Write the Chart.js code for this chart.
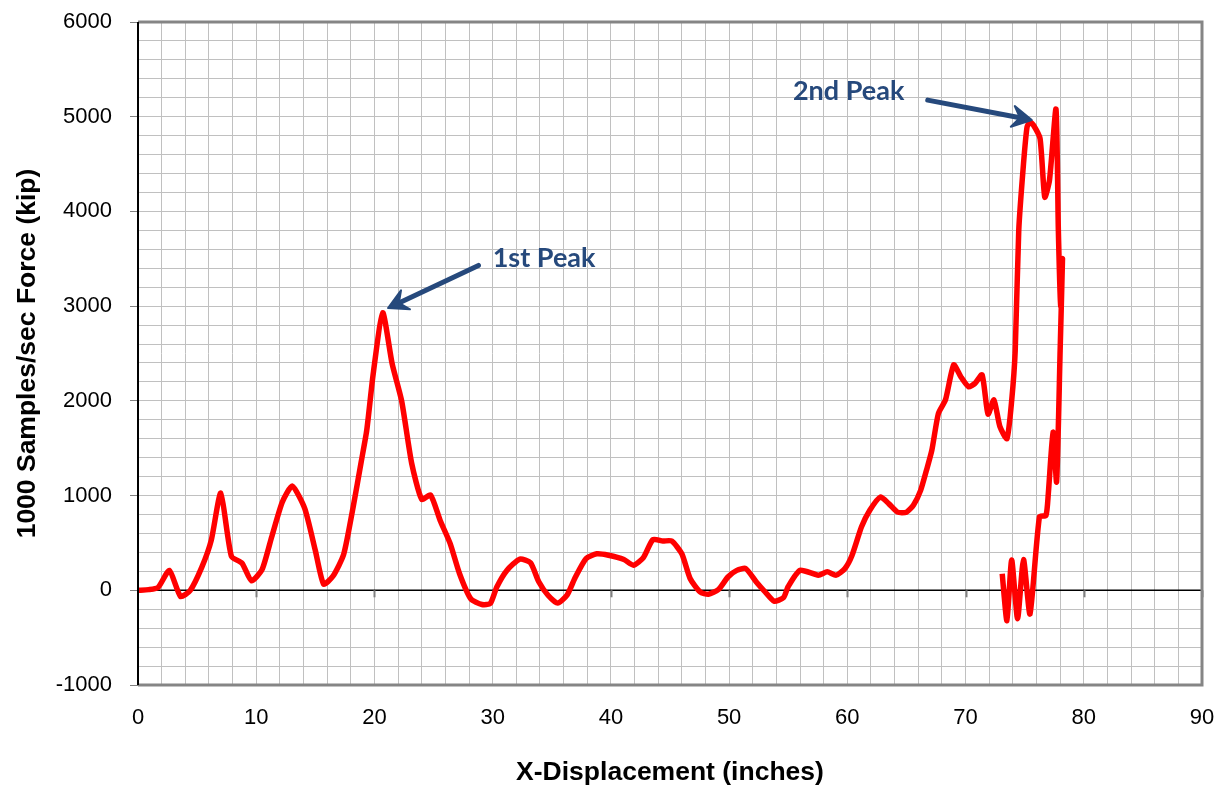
<!DOCTYPE html>
<html>
<head>
<meta charset="utf-8">
<script src="https://cdn.jsdelivr.net/npm/chart.js@4.4.1/dist/chart.umd.min.js"></script>
<style>
	html, body { margin: 0; padding: 0; background: #fff; }
	#wrap { width: 1228px; height: 793px; }
</style>
</head>
<body>
<div id="wrap"><canvas id="force-chart" width="1228" height="793"></canvas></div>
<script>
// displacement (inches) and force (kip)
const displacement = [
	0, 0.9, 1.7, 2.65, 3.6, 4.4, 5.4, 6.2, 7.0, 7.9, 8.8, 9.6, 10.5, 11.3, 12.2, 13.05, 14.1, 15.0, 15.7, 16.5,
	17.4, 18.2, 18.9, 19.35, 19.9, 20.7, 21.5, 22.3, 23.15, 24.0, 24.75, 25.55, 26.4, 27.2, 28.15, 29.1, 29.8, 30.35,
	31.2, 32.3, 33.2, 33.9, 34.7, 35.5, 36.3, 37.0, 37.9, 38.8, 39.8, 41.1, 41.9, 42.75, 43.55, 44.4, 45.15, 46.0,
	46.7, 47.55, 48.25, 49.1, 49.9, 50.65, 51.4, 52.3, 53.05, 53.8, 54.6, 55.0, 56.0, 57.55, 58.3, 59.05, 59.8,
	60.4, 61.2, 61.9, 62.8, 63.5, 64.25, 65.0, 65.6, 66.2, 66.7, 67.15, 67.7, 68.3, 69.0, 69.6, 70.25, 70.8, 71.4,
	71.9, 72.4, 72.9, 73.5, 73.9, 74.2, 74.5, 74.9, 75.2, 75.45, 75.75, 76.3, 76.7, 77.1, 77.65, 77.85, 78.05, 78.2,
	78.0, 77.7, 77.4, 77.0, 76.8, 76.25, 75.45, 74.9, 74.4, 73.9, 73.5, 73.1,
];
const force = [
	0, 7, 30, 210, -65, -5, 245, 530, 1025, 360, 285, 100, 220, 560, 930, 1100, 865, 420, 65, 150,
	380, 880, 1370, 1690, 2290, 2930, 2390, 2000, 1340, 960, 1005, 740, 495, 175, -90, -150, -140, 35,
	210, 330, 290, 90, -55, -135, -50, 140, 335, 385, 370, 325, 265, 345, 535, 520, 520, 385,
	125, -18, -42, 8, 140, 210, 230, 88, -18, -115, -78, 40, 210, 160, 195, 160, 230,
	370, 670, 845, 985, 915, 825, 825, 900, 1055, 1270, 1480, 1865, 2010, 2380, 2255, 2150, 2185, 2275,
	1860, 2010, 1730, 1600, 2000, 2530, 3800, 4500, 4890, 4945, 4910, 4770, 4150, 4330, 5080, 3800, 3000, 3500,
	2530, 1145, 1670, 1020, 790, 775, -250, 325, -300, 320, -320, 175,
];

const xTicks = [0, 10, 20, 30, 40, 50, 60, 70, 80, 90];
const yTicks = [-1000, 0, 1000, 2000, 3000, 4000, 5000, 6000];

// annotations: label text, label anchor, arrow tail, arrow head (data units)
const peakLabels = ["1st Peak", "2nd Peak"];
const labelAt = [[30.0, 3500], [55.4, 5270]];
const arrowFrom = [[28.8, 3430], [66.8, 5175]];
const arrowTo = [[21.15, 2980], [75.6, 4965]];

const points = displacement.map((x, i) => ({ x: x, y: force[i] }));

const frameAndNotes = {
	id: "frameAndNotes",
	beforeDatasetsDraw(chart) {
		const { ctx, scales } = chart;
		const x = scales.x, y = scales.y;
		const y0 = y.getPixelForValue(0);
		ctx.save();
		ctx.strokeStyle = "#000";
		ctx.lineWidth = 1.5;
		ctx.beginPath();
		ctx.moveTo(x.left, y0);
		ctx.lineTo(x.right, y0);
		ctx.stroke();
		ctx.strokeStyle = "#808080";
		ctx.lineWidth = 2;
		xTicks.forEach(v => {
			if (v === 0) return;
			const px = Math.round(x.getPixelForValue(v)) + 0.5;
			ctx.beginPath();
			ctx.moveTo(px, y0);
			ctx.lineTo(px, y0 + 7);
			ctx.stroke();
		});
		ctx.restore();
	},
	afterDatasetsDraw(chart) {
		const { ctx, chartArea, scales } = chart;
		const x = scales.x, y = scales.y;
		ctx.save();
		// frame: gray top/right/bottom, black left axis
		ctx.strokeStyle = "#858585";
		ctx.lineWidth = 3;
		ctx.beginPath();
		ctx.moveTo(chartArea.left, chartArea.top);
		ctx.lineTo(chartArea.right, chartArea.top);
		ctx.lineTo(chartArea.right, chartArea.bottom);
		ctx.lineTo(chartArea.left, chartArea.bottom);
		ctx.stroke();
		ctx.strokeStyle = "#000";
		ctx.lineWidth = 2;
		ctx.beginPath();
		ctx.moveTo(chartArea.left, chartArea.top);
		ctx.lineTo(chartArea.left, chartArea.bottom);
		ctx.stroke();

		// arrows
		const blue = "#26497c";
		ctx.strokeStyle = blue;
		ctx.fillStyle = blue;
		ctx.lineWidth = 5;
		ctx.lineCap = "round";
		ctx.lineJoin = "round";
		arrowFrom.forEach((from, i) => {
			const x1 = x.getPixelForValue(from[0]), y1 = y.getPixelForValue(from[1]);
			const x2 = x.getPixelForValue(arrowTo[i][0]), y2 = y.getPixelForValue(arrowTo[i][1]);
			const ang = Math.atan2(y2 - y1, x2 - x1);
			const len = 22;
			const bx = x2 - 12 * Math.cos(ang), by = y2 - 12 * Math.sin(ang);
			ctx.beginPath();
			ctx.moveTo(x1, y1);
			ctx.lineTo(bx, by);
			ctx.stroke();
			ctx.beginPath();
			ctx.moveTo(x2, y2);
			ctx.lineTo(x2 - len * Math.cos(ang - 0.5), y2 - len * Math.sin(ang - 0.5));
			ctx.lineTo(bx, by);
			ctx.lineTo(x2 - len * Math.cos(ang + 0.5), y2 - len * Math.sin(ang + 0.5));
			ctx.closePath();
			ctx.fill();
			ctx.lineWidth = 2;
			ctx.stroke();
			ctx.lineWidth = 5;
		});

		ctx.font = "bold 27px Lato";
		ctx.textAlign = "left";
		ctx.textBaseline = "middle";
		peakLabels.forEach((t, i) => {
			ctx.fillText(t, x.getPixelForValue(labelAt[i][0]), y.getPixelForValue(labelAt[i][1]));
		});
		ctx.restore();
	},
};

new Chart(document.getElementById("force-chart").getContext("2d"), {
	type: "scatter",
	data: {
		datasets: [
			{
				label: "Force",
				data: points,
				showLine: true,
				borderColor: "#ff0000",
				borderWidth: 5.5,
				pointRadius: 0,
				tension: 0.2,
				fill: false,
			},
		],
	},
	options: {
		responsive: false,
		animation: false,
		layout: { padding: { left: 10, right: 26, top: 22, bottom: 0 } },
		plugins: {
			legend: { display: false },
			tooltip: { enabled: false },
		},
		scales: {
			x: {
				type: "linear",
				min: 0,
				max: 90,
				afterFit: scale => {
					scale.height = 108;
					scale.paddingLeft = 0;
					scale.paddingRight = 0;
				},
				ticks: {
					stepSize: 2,
					autoSkip: false,
					maxRotation: 0,
					padding: 20,
					color: "#000",
					font: { family: "Liberation Sans", size: 22 },
					callback: v => (xTicks.includes(v) ? v : ""),
				},
				grid: { color: "#c0c0c0", lineWidth: 1, drawTicks: false },
				border: { display: false },
				title: {
					display: true,
					text: "X-Displacement (inches)",
					color: "#000",
					font: { family: "Liberation Sans", size: 26.5, weight: "bold" },
					padding: { top: 10, bottom: 4 },
				},
			},
			y: {
				type: "linear",
				min: -1000,
				max: 6000,
				afterFit: scale => {
					scale.width = 128;
					scale.paddingTop = 0;
					scale.paddingBottom = 0;
				},
				ticks: {
					stepSize: 200,
					autoSkip: false,
					padding: 18,
					color: "#000",
					font: { family: "Liberation Sans", size: 22 },
					callback: v => (yTicks.includes(v) ? v : ""),
				},
				grid: {
					color: c => (c.tick && c.tick.value === 0 ? "rgba(0,0,0,0)" : "#c0c0c0"),
					lineWidth: 1,
					tickLength: 8,
					tickColor: c => (c.tick && yTicks.includes(c.tick.value) ? "#808080" : "rgba(0,0,0,0)"),
				},
				border: { display: false },
				title: {
					display: true,
					text: "1000 Samples/sec Force (kip)",
					color: "#000",
					font: { family: "Liberation Sans", size: 26.5, weight: "bold" },
					padding: { top: 2, bottom: 4 },
				},
			},
		},
	},
	plugins: [frameAndNotes],
});
</script>
</body>
</html>
